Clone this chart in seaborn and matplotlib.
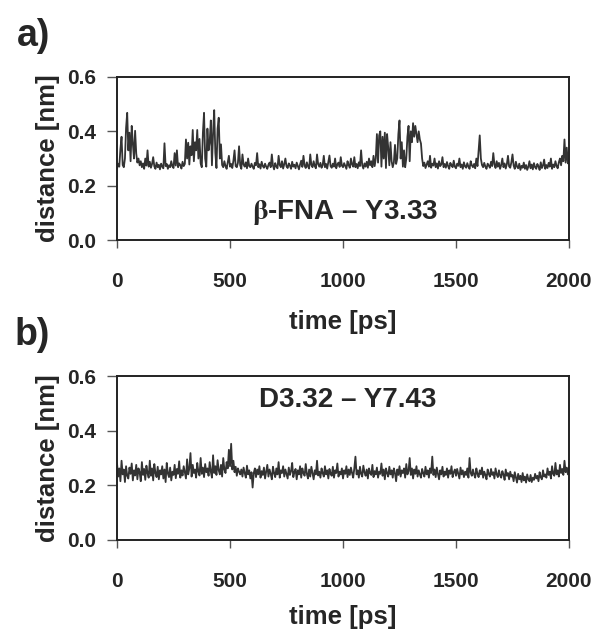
import numpy as np
import pandas as pd
import seaborn as sns
import matplotlib.pyplot as plt

# time axis: one frame every 5 ps, 0..2000 ps
time_ps = np.arange(0, 2001, 5)

# beta-FNA - Y3.33 distance (units of 0.001 nm)
dist_fna_y333 = [
    262, 281, 270, 335, 380, 276, 268, 300, 412, 468,
    330, 395, 290, 420, 355, 300, 402, 318, 285, 300,
    275, 290, 268, 282, 262, 300, 274, 330, 270, 288,
    266, 280, 305, 271, 262, 285, 268, 277, 260, 281,
    270, 264, 356, 272, 280, 262, 275, 268, 290, 271,
    265, 320, 274, 330, 268, 282, 276, 263, 288, 272,
    280, 370, 300, 358, 278, 345, 312, 405, 290, 360,
    330, 405, 300, 372, 282, 268, 395, 468, 300, 270,
    410, 330, 360, 440, 275, 395, 478, 320, 265, 410,
    450, 300, 352, 276, 268, 290, 272, 262, 285, 310,
    270, 280, 265, 292, 330, 272, 268, 284, 345, 275,
    262, 315, 278, 270, 286, 264, 300, 272, 268, 281,
    270, 262, 284, 275, 320, 268, 279, 263, 288, 272,
    266, 281, 270, 262, 277, 285, 268, 315, 274, 260,
    283, 270, 264, 310, 276, 268, 290, 263, 279, 300,
    271, 265, 282, 274, 262, 288, 270, 277, 264, 285,
    272, 260, 278, 292, 269, 310, 274, 265, 286, 271,
    263, 315, 276, 268, 290, 272, 264, 315, 279, 270,
    284, 266, 275, 310, 268, 280, 263, 288, 311, 272,
    266, 281, 270, 300, 264, 278, 285, 269, 305, 274,
    268, 283, 272, 262, 290, 276, 266, 300, 278, 270,
    305, 268, 280, 264, 286, 272, 330, 275, 263, 282,
    270, 288, 266, 300, 275, 290, 268, 310, 272, 300,
    390, 285, 385, 400, 270, 380, 300, 395, 265, 390,
    340, 275, 360, 290, 268, 285, 350, 280, 300, 390,
    440, 300, 360, 270, 330, 268, 300, 380, 420, 290,
    400, 360, 430, 380, 420, 390, 360, 400, 370, 355,
    300, 272, 285, 265, 278, 290, 270, 310, 266, 281,
    274, 300, 268, 282, 263, 290, 272, 278, 305, 268,
    280, 266, 287, 272, 262, 284, 275, 268, 292, 270,
    264, 281, 273, 300, 268, 278, 262, 286, 271, 266,
    283, 270, 262, 290, 275, 268, 280, 264, 300, 272,
    330, 385, 300, 276, 268, 284, 270, 262, 281, 274,
    266, 288, 272, 320, 278, 265, 290, 270, 284, 262,
    276, 300, 268, 282, 263, 279, 310, 271, 266, 286,
    315, 274, 262, 288, 270, 264, 281, 258, 273, 266,
    285, 262, 276, 258, 270, 290, 264, 278, 260, 283,
    268, 262, 280, 271, 258, 286, 265, 274, 296, 262,
    276, 265, 284, 270, 300, 262, 278, 268, 290, 272,
    264, 286, 300, 275, 310, 290, 370, 285, 340, 282,
    290,
]

# D3.32 - Y7.43 distance (units of 0.001 nm)
dist_d332_y743 = [
    280, 232, 262, 215, 290, 240, 258, 212, 270, 235,
    225, 265, 242, 280, 218, 255, 236, 275, 222, 262,
    248, 215, 285, 238, 260, 220, 272, 245, 228, 290,
    235, 262, 218, 278, 245, 230, 268, 222, 255, 240,
    270, 225, 258, 212, 282, 243, 230, 265, 218, 250,
    238, 275, 226, 260, 242, 288, 228, 255, 236, 270,
    248, 225, 295, 240, 262, 318, 232, 275, 245, 258,
    228, 282, 250, 236, 300, 242, 265, 230, 278, 248,
    262, 235, 285, 250, 228, 310, 245, 270, 238, 292,
    255, 240, 275, 232, 300, 258, 245, 285, 262, 330,
    270, 352, 258, 290, 248, 268, 235, 262, 250, 240,
    258, 232, 265, 245, 228, 272, 240, 255, 225, 248,
    192, 245, 262, 230, 258, 240, 270, 228, 252, 238,
    265, 225, 250, 275, 232, 258, 242, 222, 268, 245,
    230, 262, 240, 285, 228, 255, 245, 270, 232, 258,
    242, 225, 265, 238, 252, 282, 230, 248, 260, 222,
    255, 240, 270, 228, 262, 245, 235, 278, 242, 225,
    258, 232, 268, 245, 222, 255, 240, 290, 236, 250,
    228, 262, 245, 232, 270, 240, 255, 225, 260, 242,
    235, 268, 228, 255, 245, 280, 232, 250, 240, 262,
    225, 255, 242, 270, 230, 258, 238, 265, 245, 228,
    262, 305, 240, 255, 228, 268, 242, 232, 272, 248,
    235, 258, 225, 262, 245, 238, 275, 230, 252, 240,
    265, 228, 250, 242, 280, 235, 258, 222, 262, 245,
    232, 268, 240, 255, 228, 262, 245, 215, 258, 238,
    270, 232, 255, 245, 262, 228, 278, 240, 252, 300,
    238, 262, 225, 258, 242, 270, 232, 255, 240, 228,
    260, 245, 232, 268, 240, 255, 228, 262, 245, 305,
    238, 258, 230, 265, 242, 222, 255, 240, 268, 232,
    250, 238, 262, 228, 255, 242, 270, 230, 248, 258,
    235, 260, 242, 225, 265, 240, 255, 230, 250, 238,
    262, 228, 300, 245, 235, 258, 240, 228, 262, 242,
    230, 255, 240, 265, 228, 250, 238, 222, 258, 242,
    232, 260, 238, 248, 225, 262, 240, 230, 255, 236,
    228, 252, 240, 220, 258, 235, 245, 222, 250, 232,
    238, 215, 248, 228, 210, 242, 222, 235, 212, 245,
    218, 232, 210, 240, 222, 215, 238, 212, 228, 220,
    242, 225, 235, 215, 248, 230, 222, 255, 232, 240,
    228, 262, 238, 250, 225, 270, 242, 235, 282, 240,
    255, 232, 275, 245, 260, 238, 290, 248, 265, 240,
    270,
]

panel_letters = ['a)', 'b)']
panel_titles = [r'$\mathrm{\beta}$-FNA – Y3.33', 'D3.32 – Y7.43']
title_pos = [(1010, 0.103), (1020, 0.513)]
x_ticks = [0, 500, 1000, 1500, 2000]
y_ticks = [0.0, 0.2, 0.4, 0.6]
xlabel_pads = [14, 10]

sns.set_style('ticks')
plt.rcParams['font.family'] = ['Liberation Sans', 'DejaVu Sans']
plt.rcParams['font.weight'] = 'bold'
plt.rcParams['mathtext.fontset'] = 'stix'

fig = plt.figure(figsize=(5.98, 6.29), dpi=100)
ax_a = fig.add_axes([0.1957, 0.6184, 0.7558, 0.2592])
ax_b = fig.add_axes([0.1957, 0.1415, 0.7558, 0.2607])

series = [dist_fna_y333, dist_d332_y743]
for ax, vals, letter, title, tpos, xpad in zip([ax_a, ax_b], series, panel_letters,
                                               panel_titles, title_pos, xlabel_pads):
    df = pd.DataFrame({'time': time_ps, 'dist': np.array(vals) / 1000})
    sns.lineplot(data=df, x='time', y='dist', ax=ax, color='#333333', lw=1.3)
    ax.set_xlim(0, 2000)
    ax.set_ylim(0, 0.6)
    ax.set_xticks(x_ticks)
    ax.set_yticks(y_ticks)
    ax.set_yticklabels([f'{v:.1f}' for v in y_ticks])
    ax.tick_params(axis='x', direction='out', length=6, width=1, pad=17,
                   labelsize=15, color='#555555')
    ax.tick_params(axis='y', direction='out', length=7, width=1, pad=8,
                   labelsize=15, color='#555555')
    for s in ax.spines.values():
        s.set_linewidth(1.4)
        s.set_color('#222222')
    ax.set_xlabel('time [ps]', fontsize=18.5, fontweight='bold', labelpad=xpad)
    ax.set_ylabel('distance [nm]', fontsize=18.5, fontweight='bold', labelpad=5)
    ax.text(tpos[0], tpos[1], title, ha='center', va='center',
            fontsize=20, fontweight='bold')
    ax.text(-0.148, 1.25, letter, transform=ax.transAxes, ha='right',
            va='center', fontsize=27, fontweight='bold')

fig.savefig('out.png', dpi=100, facecolor='white')
